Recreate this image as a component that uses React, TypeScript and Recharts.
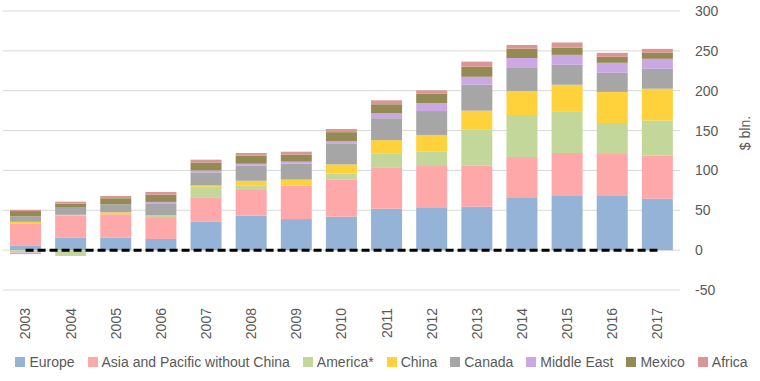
import React from "react";
import {
  ComposedChart,
  Bar,
  Line,
  XAxis,
  YAxis,
  CartesianGrid,
  Legend,
  Label,
} from "recharts";

const years = ["2003", "2004", "2005", "2006", "2007", "2008", "2009", "2010", "2011", "2012", "2013", "2014", "2015", "2016", "2017"];

const europe = [6, 16, 16, 14, 35.5, 43, 39, 42, 52, 53, 54.5, 65.5, 68, 68, 64.5];
const asiaPacific = [27, 27, 29, 27.5, 30, 32.5, 41.5, 46.5, 52, 52.5, 51.5, 51.5, 54, 52.5, 54];
const america = [-3, -6, 0, 2.5, 14, 6, 0.5, 7.5, 17.5, 18.5, 45, 52.5, 51.5, 39, 44];
const china = [2.5, 1.3, 2.5, 0, 1.5, 5.5, 7.5, 11.5, 16.5, 20.5, 24, 30, 34, 39, 40];
const canada = [7, 9, 10, 14, 16.5, 19, 20, 26.5, 27.5, 30, 32.5, 30, 25, 24, 25];
const middleEast = [-2, -1, 0, 2.5, 2.5, 2.5, 2.5, 2.5, 6, 10, 10, 11.5, 12.5, 12.5, 12.5];
const mexico = [6.5, 5, 7.5, 9, 10, 10, 9, 11.5, 11.5, 12, 12.5, 11.5, 9, 7.5, 7.5];
const africa = [1.5, 2.5, 3, 3.5, 3.5, 3.5, 3.5, 4, 5, 4, 6.5, 5, 6.5, 5, 5];

const yTicks = [-50, 0, 50, 100, 150, 200, 250, 300];

const series = [
  { key: "europe", name: "Europe", color: "#95B3D7" },
  { key: "asia", name: "Asia and Pacific without China", color: "#FFA8AA" },
  { key: "america", name: "America*", color: "#C4D79B" },
  { key: "china", name: "China", color: "#FFD13B" },
  { key: "canada", name: "Canada", color: "#A6A6A6" },
  { key: "middleEast", name: "Middle East", color: "#CBA8E3" },
  { key: "mexico", name: "Mexico", color: "#948A54" },
  { key: "africa", name: "Africa", color: "#DA9694" },
];

const data = years.map((year, i) => ({
  year,
  europe: europe[i],
  asia: asiaPacific[i],
  america: america[i],
  china: china[i],
  canada: canada[i],
  middleEast: middleEast[i],
  mexico: mexico[i],
  africa: africa[i],
  zero: 0,
}));

const FONT = "'Liberation Sans', Arial, sans-serif";
const TEXT = "#595959";

// year labels, rotated so they read bottom to top
const YearTick = ({ x, y, payload }: any) => (
  <text
    x={x}
    y={y + 10}
    transform={`rotate(-90, ${x}, ${y + 10})`}
    textAnchor="end"
    dy="0.35em"
    fontSize={14}
    fontFamily={FONT}
    fill={TEXT}
  >
    {payload.value}
  </text>
);

// legend keeps the series order (recharts would sort it by name)
const renderLegend = () => (
  <div
    style={{
      display: "flex",
      justifyContent: "center",
      gap: 13,
      fontSize: 14,
      fontFamily: FONT,
      color: TEXT,
    }}
  >
    {series.map((s) => (
      <span key={s.key} style={{ display: "flex", alignItems: "center" }}>
        <span
          style={{
            width: 10,
            height: 10,
            background: s.color,
            marginRight: 4,
            display: "inline-block",
          }}
        />
        {s.name}
      </span>
    ))}
  </div>
);

export default function App() {
  return (
    <div style={{ position: "absolute", left: 0, top: 0, background: "#fff" }}>
      <ComposedChart
        width={760}
        height={381}
        data={data}
        stackOffset="sign"
        margin={{ top: 11, right: 0, bottom: 11, left: 3 }}
        barSize={31}
      >
        <CartesianGrid vertical={false} stroke="#D9D9D9" strokeWidth={1} />
        <XAxis
          dataKey="year"
          axisLine={false}
          tickLine={false}
          interval={0}
          height={64}
          tick={<YearTick />}
        />
        <YAxis
          orientation="right"
          width={80}
          domain={[-50, 300]}
          ticks={yTicks}
          axisLine={false}
          tickLine={false}
          tickMargin={9}
          tick={{ fill: TEXT, fontSize: 14, fontFamily: FONT, textAnchor: "start" }}
        >
          <Label
            content={({ viewBox }: any) => {
              const cx = viewBox.x + 65;
              const cy = 133;
              return (
                <text
                  x={cx}
                  y={cy}
                  transform={`rotate(-90, ${cx}, ${cy})`}
                  textAnchor="middle"
                  dy="0.35em"
                  fontSize={14}
                  fontFamily={FONT}
                  fill={TEXT}
                >
                  $ bln.
                </text>
              );
            }}
          />
        </YAxis>
        <Legend verticalAlign="bottom" content={renderLegend} />
        {series.map((s) => (
          <Bar
            key={s.key}
            dataKey={s.key}
            name={s.name}
            stackId="a"
            fill={s.color}
            isAnimationActive={false}
          />
        ))}
        <Line
          dataKey="zero"
          stroke="#000"
          strokeWidth={3}
          strokeDasharray="8 4"
          dot={false}
          activeDot={false}
          legendType="none"
          isAnimationActive={false}
        />
      </ComposedChart>
    </div>
  );
}
